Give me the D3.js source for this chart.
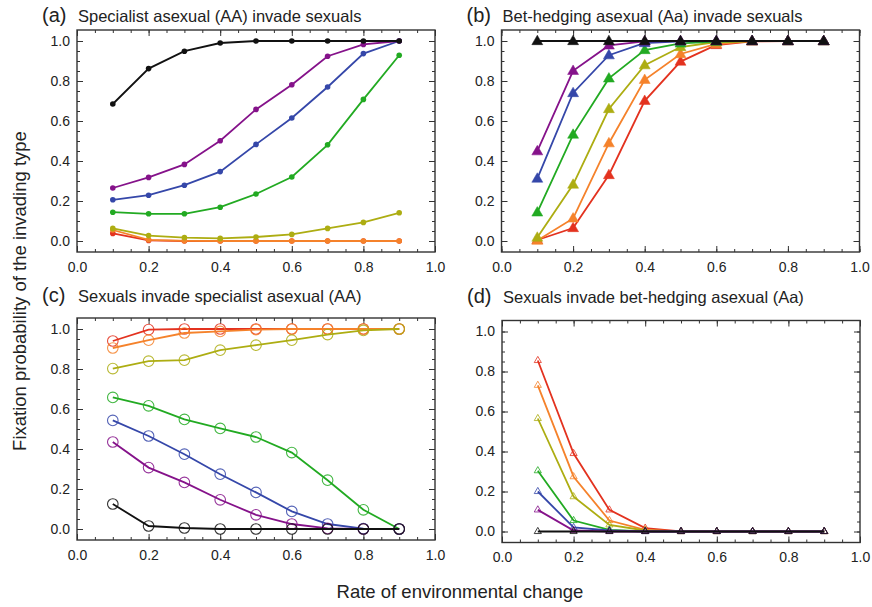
<!DOCTYPE html>
<html>
<head>
<meta charset="utf-8">
<script src="https://cdn.jsdelivr.net/npm/d3@7"></script>
<style>
  body { margin: 0; background: #fff; }
  text { font-family: "Liberation Sans", Arial, sans-serif; fill: #222; }
  .tick line { stroke: #333; }
</style>
</head>
<body>
<div class="chart"></div>
<script>
// x values shared by every panel
var rates = [0.1, 0.2, 0.3, 0.4, 0.5, 0.6, 0.7, 0.8, 0.9];

// series colours, same order in every panel: black, purple, blue, green, olive, orange, red
var seriesColors = ["#111111", "#85128a", "#3547a9", "#22aa22", "#adad12", "#f5822b", "#e3321f"];

var majorTicks = [0, 0.2, 0.4, 0.6, 0.8, 1.0];
var minorTicks = d3.range(0, 1.0001, 0.05);

// (a) specialist asexual (AA) invade sexuals
var specialistInvades = [
  [0.685, 0.862, 0.949, 0.990, 1, 1, 1, 1, 1],
  [0.265, 0.318, 0.383, 0.501, 0.658, 0.781, 0.924, 0.983, 1],
  [0.206, 0.229, 0.279, 0.347, 0.483, 0.615, 0.770, 0.937, 1],
  [0.144, 0.136, 0.136, 0.169, 0.235, 0.320, 0.481, 0.708, 0.929],
  [0.063, 0.027, 0.017, 0.013, 0.020, 0.033, 0.063, 0.093, 0.141],
  [0.055, 0.006, 0.001, 0, 0, 0, 0, 0, 0],
  [0.038, 0.003, 0, 0, 0, 0, 0, 0, 0]
];

// (b) bet-hedging asexual (Aa) invade sexuals
var betHedgerInvades = [
  [1, 1, 1, 1, 1, 1, 1, 1, 1],
  [0.449, 0.851, 0.978, 0.998, 1, 1, 1, 1, 1],
  [0.312, 0.740, 0.929, 0.990, 0.998, 1, 1, 1, 1],
  [0.143, 0.532, 0.813, 0.955, 0.988, 0.997, 1, 1, 1],
  [0.017, 0.282, 0.660, 0.879, 0.970, 0.995, 1, 1, 1],
  [0.002, 0.113, 0.489, 0.806, 0.935, 0.985, 1, 1, 1],
  [0.005, 0.065, 0.330, 0.701, 0.897, 0.980, 0.998, 1, 1]
];

// (c) sexuals invade specialist asexual (AA)
var sexualsVsSpecialist = [
  [0.125, 0.015, 0.005, 0, 0, 0, 0, 0, 0],
  [0.435, 0.307, 0.233, 0.146, 0.071, 0.025, 0.003, 0, 0],
  [0.543, 0.465, 0.374, 0.274, 0.183, 0.088, 0.025, 0.002, 0],
  [0.658, 0.616, 0.548, 0.503, 0.460, 0.382, 0.244, 0.096, 0],
  [0.802, 0.839, 0.844, 0.894, 0.919, 0.944, 0.972, 0.993, 1],
  [0.905, 0.944, 0.980, 0.988, 0.997, 1, 1, 1, 1],
  [0.940, 0.997, 1, 1, 1, 1, 1, 1, 1]
];

// (d) sexuals invade bet-hedging asexual (Aa)
var sexualsVsBetHedger = [
  [0, 0, 0, 0, 0, 0, 0, 0, 0],
  [0.108, 0.005, 0, 0, 0, 0, 0, 0, 0],
  [0.200, 0.020, 0.005, 0, 0, 0, 0, 0, 0],
  [0.304, 0.055, 0.008, 0, 0, 0, 0, 0, 0],
  [0.565, 0.174, 0.033, 0.005, 0, 0, 0, 0, 0],
  [0.731, 0.274, 0.055, 0.008, 0, 0, 0, 0, 0],
  [0.855, 0.390, 0.108, 0.017, 0, 0, 0, 0, 0]
];

var panelLetters = ["(a)", "(b)", "(c)", "(d)"];
var panelTitles = [
  "Specialist asexual (AA) invade sexuals",
  "Bet-hedging asexual (Aa) invade sexuals",
  "Sexuals invade specialist asexual (AA)",
  "Sexuals invade bet-hedging asexual (Aa)"
];

// layout of each frame: left, right, top, bottom, title baseline, marker type
var panels = [
  {data: specialistInvades, left: 77, right: 435, top: 30, bottom: 252, titleY: 21.5, marker: "dot"},
  {data: betHedgerInvades, left: 501.5, right: 859.5, top: 30, bottom: 252, titleY: 21.5, marker: "triFilled"},
  {data: sexualsVsSpecialist, left: 77, right: 435, top: 318, bottom: 540, titleY: 301.5, marker: "ring"},
  {data: sexualsVsBetHedger, left: 502, right: 860, top: 320.5, bottom: 542.5, titleY: 303, marker: "triOpen"}
];

var svg = d3.select(".chart").append("svg")
    .attr("width", 872)
    .attr("height", 607);

panels.forEach(function(p, i) {
  var x = d3.scaleLinear().domain([0, 1]).range([p.left, p.right]);
  var y = d3.scaleLinear().domain([-0.055, 1.055]).range([p.bottom, p.top]);
  var g = svg.append("g");

  // title
  g.append("text")
      .attr("x", p.left - 35)
      .attr("y", p.titleY)
      .style("font-size", "20px")
      .text(panelLetters[i]);
  g.append("text")
      .attr("x", p.left + 1)
      .attr("y", p.titleY)
      .style("font-size", "16.5px")
      .text(panelTitles[i]);

  // axes, ticks point inward
  function addAxis(axis, tr, labels) {
    var a = g.append("g").attr("transform", tr).call(axis);
    a.select(".domain").remove();
    a.selectAll("text").style("font-size", "14px").style("font-family", "Liberation Sans, Arial, sans-serif").attr("fill", "#222");
    a.selectAll("line").attr("stroke", "#333").attr("stroke-width", 1);
    if (!labels) a.selectAll("text").remove();
  }
  var fmt = d3.format(".1f");
  addAxis(d3.axisBottom(x).tickValues(minorTicks).tickSize(-3).tickFormat(""), "translate(0," + p.bottom + ")", false);
  addAxis(d3.axisBottom(x).tickValues(majorTicks).tickSize(-6).tickPadding(10).tickFormat(fmt), "translate(0," + p.bottom + ")", true);
  addAxis(d3.axisTop(x).tickValues(minorTicks).tickSize(-3).tickFormat(""), "translate(0," + p.top + ")", false);
  addAxis(d3.axisTop(x).tickValues(majorTicks).tickSize(-6).tickFormat(""), "translate(0," + p.top + ")", false);
  addAxis(d3.axisLeft(y).tickValues(minorTicks).tickSize(-3).tickFormat(""), "translate(" + p.left + ",0)", false);
  addAxis(d3.axisLeft(y).tickValues(majorTicks).tickSize(-6).tickPadding(7).tickFormat(fmt), "translate(" + p.left + ",0)", true);
  addAxis(d3.axisRight(y).tickValues(minorTicks).tickSize(-3).tickFormat(""), "translate(" + p.right + ",0)", false);
  addAxis(d3.axisRight(y).tickValues(majorTicks).tickSize(-6).tickFormat(""), "translate(" + p.right + ",0)", false);

  // frame
  g.append("rect")
      .attr("x", p.left)
      .attr("y", p.top)
      .attr("width", p.right - p.left)
      .attr("height", p.bottom - p.top)
      .attr("fill", "none")
      .attr("stroke", "#333")
      .attr("stroke-width", 1.4);

  var line = d3.line()
      .x(function(d, j) { return x(rates[j]); })
      .y(function(d) { return y(d); });

  // draw red first so black ends up on top
  for (var s = p.data.length - 1; s >= 0; s--) {
    var col = seriesColors[s];
    var vals = p.data[s];
    g.append("path")
        .datum(vals)
        .attr("fill", "none")
        .attr("stroke", col)
        .attr("stroke-width", 1.8)
        .attr("d", line);

    var pts = g.selectAll(null)
        .data(vals)
        .enter();

    if (p.marker === "dot") {
      pts.append("circle")
          .attr("cx", function(d, j) { return x(rates[j]); })
          .attr("cy", function(d) { return y(d); })
          .attr("r", 2.8)
          .attr("fill", col);
    } else if (p.marker === "ring") {
      pts.append("circle")
          .attr("cx", function(d, j) { return x(rates[j]); })
          .attr("cy", function(d) { return y(d); })
          .attr("r", 5.3)
          .attr("fill", "none")
          .attr("stroke", col)
          .attr("stroke-opacity", 0.85)
          .attr("stroke-width", 1.1);
    } else {
      var filled = p.marker === "triFilled";
      pts.append("path")
          .attr("transform", function(d, j) { return "translate(" + x(rates[j]) + "," + (y(d) + (filled ? 0.5 : 0)) + ")"; })
          .attr("d", d3.symbol().type(d3.symbolTriangle).size(filled ? 52 : 22))
          .attr("fill", filled ? col : "none")
          .attr("stroke", col)
          .attr("stroke-opacity", filled ? 1 : 0.8)
          .attr("stroke-width", filled ? 0.5 : 1);
    }
  }
});

// shared axis labels
svg.append("text")
    .attr("transform", "translate(26,291) rotate(-90)")
    .attr("text-anchor", "middle")
    .style("font-size", "18.5px")
    .text("Fixation probability of the invading type");

svg.append("text")
    .attr("x", 460)
    .attr("y", 598)
    .attr("text-anchor", "middle")
    .style("font-size", "18.5px")
    .text("Rate of environmental change");
</script>
</body>
</html>
